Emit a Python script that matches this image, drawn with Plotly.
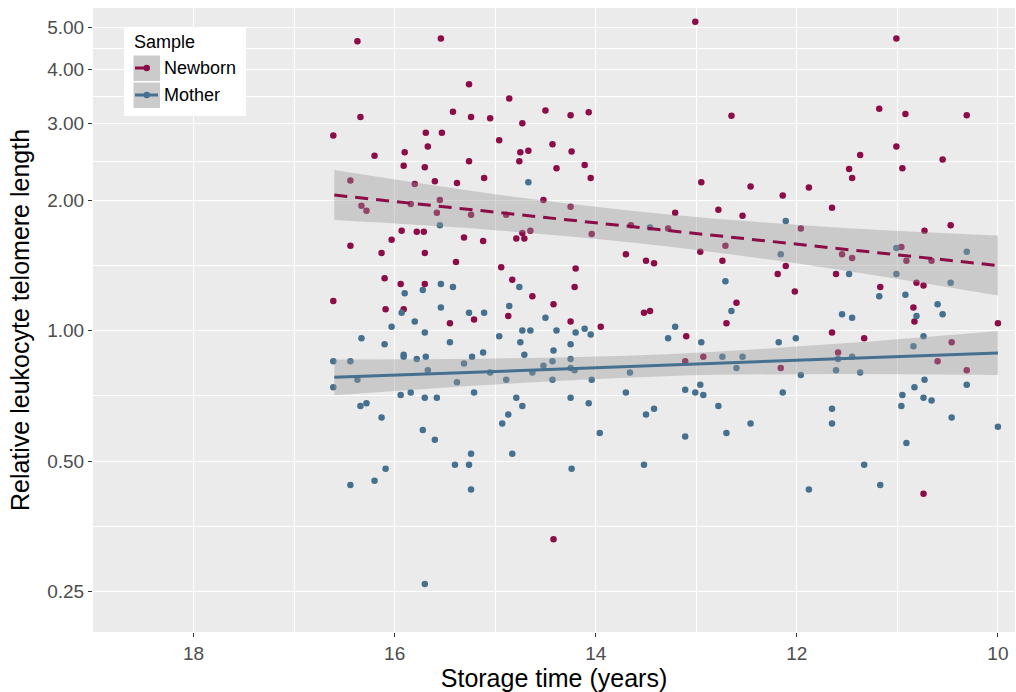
import plotly.graph_objects as go

# Storage time (years) and relative leukocyte telomere length per sample
newborn_time = [
    16.37, 15.54, 15.26, 14.86, 16.34, 15.42, 15.24, 15.05, 14.50, 14.25, 14.07, 14.73,
    16.61, 15.69, 15.53, 15.67, 14.96, 14.43, 16.20, 15.90, 14.75, 14.67, 14.24, 15.91,
    15.70, 15.26, 14.76, 14.39, 14.11, 14.05, 15.60, 15.38, 15.11, 16.44, 15.80, 14.52,
    16.33, 16.28, 15.84, 15.55, 15.58, 15.24, 14.89, 14.25, 14.04, 15.93, 15.78, 15.71,
    16.03, 16.44, 15.31, 15.12, 14.73, 14.65, 14.79, 14.71, 16.13, 15.70, 15.39, 13.70,
    13.50, 13.42, 14.94, 14.20, 16.10, 14.83, 15.94, 15.70, 14.21, 14.63, 16.61, 16.09,
    15.91, 14.42, 14.87, 15.21, 15.45, 14.25, 13.52, 13.46, 13.95, 13.65,
    13.01, 11.01, 11.18, 10.92, 10.31, 12.65, 11.01, 11.37, 10.55, 11.48, 11.45, 10.95,
    12.95, 12.46, 11.88, 12.14, 13.21, 12.78, 12.54, 11.65, 10.73, 10.47, 13.28, 12.71,
    11.96, 11.55, 11.45, 10.96, 10.91, 10.66, 12.96, 12.74, 12.19, 12.11, 11.61, 12.02,
    11.17, 10.81, 10.74, 12.60, 12.70, 10.84, 10.83, 10.00,
    14.42, 13.10, 13.11, 12.93, 12.16, 11.65, 11.33, 11.59, 10.46, 10.60, 10.31, 10.74,
]
newborn_rltl = [
    4.65, 4.72, 3.70, 3.43, 3.11, 3.20, 3.11, 3.09, 3.22, 3.14, 3.19, 3.01,
    2.82, 2.86, 2.86, 2.66, 2.75, 2.69, 2.53, 2.58, 2.58, 2.60, 2.59, 2.40,
    2.38, 2.46, 2.46, 2.37, 2.41, 2.25, 2.21, 2.19, 2.25, 2.22, 2.18, 2.00,
    1.94, 1.89, 1.96, 2.00, 1.87, 1.85, 1.85, 1.93, 1.67, 1.70, 1.69, 1.69,
    1.62, 1.57, 1.64, 1.61, 1.68, 1.70, 1.63, 1.63, 1.51, 1.51, 1.44, 1.50,
    1.45, 1.43, 1.40, 1.39, 1.32, 1.31, 1.28, 1.28, 1.26, 1.20, 1.17, 1.12,
    1.12, 1.15, 1.08, 1.06, 1.04, 1.05, 1.10, 1.11, 1.02, 1.75,
    5.16, 4.72, 3.25, 3.16, 3.14, 3.13, 2.66, 2.54, 2.48, 2.36, 2.25, 2.37,
    2.20, 2.15, 2.14, 2.05, 1.87, 1.90, 1.84, 1.92, 1.70, 1.75, 1.72, 1.57,
    1.72, 1.50, 1.47, 1.56, 1.45, 1.45, 1.52, 1.45, 1.35, 1.41, 1.35, 1.23,
    1.26, 1.29, 1.27, 1.16, 1.04, 1.13, 1.05, 1.04,
    0.33, 0.97, 0.85, 0.87, 0.82, 0.99, 0.96, 0.89, 0.94, 0.85, 0.81, 0.42,
]

mother_time = [
    14.67, 15.55, 13.46, 15.54, 15.42, 15.90, 15.72, 14.76, 15.54, 14.86, 15.93, 15.26,
    15.11, 14.50, 15.80, 16.03, 14.11,
    12.11, 12.16, 11.01, 10.31, 11.48, 11.01, 10.47, 12.71, 12.65, 11.18, 10.92, 10.60,
    11.55, 11.45, 10.81, 10.55, 13.21,
    16.33, 16.10, 15.70, 15.45, 14.96, 14.75, 14.73, 14.65, 14.39, 14.25, 14.20, 14.05,
    16.61, 16.44, 16.37, 16.61, 15.91, 15.91, 15.78, 15.69, 15.67, 15.31, 15.23, 15.12,
    15.38, 15.05, 14.89, 14.71, 14.63, 14.52, 14.43, 14.42, 14.43, 14.25, 14.25, 14.21,
    14.04, 13.66, 15.94, 15.84, 15.70, 15.58, 15.21, 14.79, 14.73, 14.25, 14.07, 13.70,
    16.34, 16.28, 16.13, 14.87, 14.93, 13.50, 13.42, 15.72, 15.60, 13.96, 15.24, 14.83,
    15.40, 15.26, 14.24, 13.52, 16.09, 16.44, 16.20, 15.24, 15.70,
    13.28, 12.95, 12.74, 12.54, 12.60, 12.18, 12.01, 11.96, 11.59, 11.45, 11.61, 11.37,
    10.74, 10.84, 10.73, 10.83, 10.95, 10.74, 10.66, 10.31, 10.96, 10.46, 10.00, 10.91,
    13.11, 13.01, 12.93, 12.96, 12.78, 13.11, 12.70, 12.46, 12.14, 11.65, 11.65, 11.33,
    11.17, 11.88,
]
mother_rltl = [
    2.20, 1.75, 1.73, 1.28, 1.26, 1.22, 1.24, 1.26, 1.13, 1.14, 1.10, 1.10,
    1.10, 1.07, 1.05, 1.02, 1.01,
    1.79, 1.50, 1.55, 1.52, 1.35, 1.35, 1.29, 1.30, 1.11, 1.20, 1.21, 1.15,
    1.09, 1.07, 1.08, 1.09, 1.02,
    0.96, 0.93, 0.99, 0.94, 0.97, 0.94, 1.00, 1.00, 1.00, 0.93, 0.99, 0.98,
    0.85, 0.85, 0.77, 0.74, 0.88, 0.87, 0.86, 0.87, 0.81, 0.84, 0.87, 0.89,
    0.76, 0.80, 0.77, 0.88, 0.80, 0.83, 0.85, 0.90, 0.77, 0.86, 0.82, 0.81,
    0.77, 0.80, 0.71, 0.72, 0.70, 0.70, 0.72, 0.70, 0.67, 0.70, 0.68, 0.72,
    0.67, 0.68, 0.63, 0.64, 0.61, 0.64, 0.66, 0.59, 0.56, 0.58, 0.52, 0.52,
    0.49, 0.49, 0.48, 0.49, 0.48, 0.44, 0.45, 0.43, 0.26,
    0.96, 0.94, 0.87, 0.87, 0.82, 0.94, 0.96, 0.79, 0.86, 0.87, 0.81, 0.80,
    0.97, 0.92, 0.77, 0.74, 0.71, 0.70, 0.69, 0.75, 0.67, 0.63, 0.60, 0.55,
    0.73, 0.72, 0.71, 0.75, 0.67, 0.57, 0.58, 0.61, 0.72, 0.66, 0.61, 0.49,
    0.44, 0.43,
]

# Log-linear fits with 95% confidence bands, evaluated along storage time
fit_time = [16.6, 15.0, 13.3, 11.6, 10.0]
newborn_fit = [2.054, 1.876, 1.704, 1.547, 1.413]
newborn_upper = [2.346, 2.064, 1.855, 1.730, 1.657]
newborn_lower = [1.799, 1.705, 1.565, 1.384, 1.205]
mother_fit = [0.780, 0.805, 0.832, 0.860, 0.888]
mother_upper = [0.858, 0.862, 0.882, 0.932, 0.998]
mother_lower = [0.709, 0.751, 0.785, 0.794, 0.790]

y_ticks = [0.25, 0.5, 1, 2, 3, 4, 5]
y_ticktext = ["0.25", "0.50", "1.00", "2.00", "3.00", "4.00", "5.00"]
x_ticks = [10, 12, 14, 16, 18]

NEWBORN = "#8c0c48"
MOTHER = "#45708f"
BAND = "rgba(153,153,153,0.4)"
FONT = "Liberation Sans, Arial, sans-serif"
TICK_SIZE = 19
TITLE_SIZE = 25
LEGEND_SIZE = 18

fig = go.Figure()

fig.add_trace(go.Scatter(x=newborn_time, y=newborn_rltl, mode="markers",
                         marker=dict(color=NEWBORN, size=6.5), showlegend=False))
fig.add_trace(go.Scatter(x=mother_time, y=mother_rltl, mode="markers",
                         marker=dict(color=MOTHER, size=6.5), showlegend=False))

for lower, upper in [(newborn_lower, newborn_upper), (mother_lower, mother_upper)]:
    fig.add_trace(go.Scatter(x=fit_time, y=lower, mode="lines", line=dict(width=0, shape="spline"),
                             showlegend=False, hoverinfo="skip"))
    fig.add_trace(go.Scatter(x=fit_time, y=upper, mode="lines", line=dict(width=0, shape="spline"),
                             fill="tonexty", fillcolor=BAND, showlegend=False, hoverinfo="skip"))

fig.add_trace(go.Scatter(x=fit_time, y=newborn_fit, mode="lines",
                         line=dict(color=NEWBORN, width=3, dash="13px,8px"), showlegend=False))
fig.add_trace(go.Scatter(x=fit_time, y=mother_fit, mode="lines",
                         line=dict(color=MOTHER, width=3), showlegend=False))

# Legend box drawn in the ggplot style (key squares with line and point glyphs)
W, H = 1016, 692
L, R, T, B = 93, 1, 8, 60
pw, ph = W - L - R, H - T - B


def px(x):
    return (x - L) / pw


def py(y):
    return 1 - (y - T) / ph


shapes = [
    dict(type="rect", xref="paper", yref="paper", x0=px(124), x1=px(246), y0=py(116), y1=py(27),
         fillcolor="white", line=dict(width=0), layer="above"),
]
annotations = [
    dict(text="Sample", xref="paper", yref="paper", x=px(132), y=py(42), xanchor="left",
         yanchor="middle", showarrow=False, font=dict(family=FONT, size=LEGEND_SIZE, color="black")),
]
for label, color, yc, dash in [("Newborn", NEWBORN, 68, True), ("Mother", MOTHER, 95, False)]:
    shapes.append(dict(type="rect", xref="paper", yref="paper", x0=px(133.5), x1=px(160),
                       y0=py(yc + 13), y1=py(yc - 12.5), fillcolor="#cbcbcb",
                       line=dict(width=0), layer="above"))
    x_end = 149 if dash else 158
    shapes.append(dict(type="line", xref="paper", yref="paper", x0=px(135), x1=px(x_end),
                       y0=py(yc), y1=py(yc), line=dict(color=color, width=3), layer="above"))
    shapes.append(dict(type="circle", xref="paper", yref="paper", x0=px(143.5), x1=px(150),
                       y0=py(yc + 3.2), y1=py(yc - 3.2), fillcolor=color,
                       line=dict(width=0), layer="above"))
    annotations.append(dict(text=label, xref="paper", yref="paper", x=px(162), y=py(yc),
                            xanchor="left", yanchor="middle", showarrow=False,
                            font=dict(family=FONT, size=LEGEND_SIZE, color="black")))

fig.update_layout(
    width=W, height=H,
    margin=dict(l=L, r=R, t=T, b=B, autoexpand=False),
    paper_bgcolor="white", plot_bgcolor="#ebebeb",
    font=dict(family=FONT),
    showlegend=False,
    shapes=shapes, annotations=annotations,
)
fig.update_xaxes(
    range=[19.0, 9.83], tickvals=x_ticks, ticktext=[str(v) for v in x_ticks],
    showgrid=True, gridcolor="white", gridwidth=1.1, zeroline=False,
    minor=dict(tickvals=[11, 13, 15, 17, 19], showgrid=True, gridcolor="white", gridwidth=0.5, ticks=""),
    ticks="outside", ticklen=4, tickwidth=1, tickcolor="#333333",
    tickfont=dict(family=FONT, size=TICK_SIZE, color="#4d4d4d"),
    title=dict(text="Storage time (years)", font=dict(family=FONT, size=TITLE_SIZE, color="black"),
               standoff=0),
    automargin=False,
)
fig.update_yaxes(
    type="log", range=[-0.6955, 0.7443], tickvals=y_ticks, ticktext=y_ticktext,
    showgrid=True, gridcolor="white", gridwidth=1.1, zeroline=False,
    minor=dict(tickvals=[0.3536, 0.7071, 1.4142, 2.4495, 3.4641, 4.4721], showgrid=True,
               gridcolor="white", gridwidth=0.5, ticks=""),
    ticks="outside", ticklen=4, tickwidth=1, tickcolor="#333333",
    tickfont=dict(family=FONT, size=TICK_SIZE, color="#4d4d4d"),
    title=dict(text="Relative leukocyte telomere length",
               font=dict(family=FONT, size=TITLE_SIZE, color="black"), standoff=10),
    automargin=False,
)

fig.write_html("out.html")
